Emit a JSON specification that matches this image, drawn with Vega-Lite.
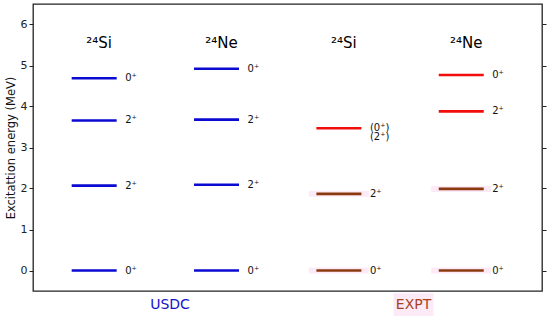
{
  "$schema": "https://vega.github.io/schema/vega-lite/v6.json",
  "width": 509,
  "height": 287,
  "autosize": "none",
  "padding": {"left": 33, "top": 4, "right": 8, "bottom": 25},
  "background": "white",
  "config": {
    "font": "DejaVu Sans",
    "view": {"stroke": "#222", "strokeWidth": 1.3},
    "axis": {
      "domain": false,
      "grid": false,
      "tickColor": "#222",
      "tickSize": 4,
      "tickWidth": 1,
      "labelColor": "#222",
      "labelFontSize": 11,
      "labelPadding": 2,
      "titleFontSize": 11.5,
      "titleFontWeight": "normal",
      "titleColor": "#111"
    }
  },
  "datasets": {
    "levels": [
      {"panel": 1, "set": "USDC", "nucleus": "24Si", "E": 0.0, "Jpi": "0⁺", "kind": "USDC"},
      {"panel": 1, "set": "USDC", "nucleus": "24Si", "E": 2.07, "Jpi": "2⁺", "kind": "USDC"},
      {"panel": 1, "set": "USDC", "nucleus": "24Si", "E": 3.66, "Jpi": "2⁺", "kind": "USDC"},
      {"panel": 1, "set": "USDC", "nucleus": "24Si", "E": 4.69, "Jpi": "0⁺", "kind": "USDC"},
      {"panel": 2, "set": "USDC", "nucleus": "24Ne", "E": 0.0, "Jpi": "0⁺", "kind": "USDC"},
      {"panel": 2, "set": "USDC", "nucleus": "24Ne", "E": 2.09, "Jpi": "2⁺", "kind": "USDC"},
      {"panel": 2, "set": "USDC", "nucleus": "24Ne", "E": 3.68, "Jpi": "2⁺", "kind": "USDC"},
      {"panel": 2, "set": "USDC", "nucleus": "24Ne", "E": 4.92, "Jpi": "0⁺", "kind": "USDC"},
      {"panel": 3, "set": "EXPT", "nucleus": "24Si", "E": 0.0, "Jpi": "0⁺", "kind": "EXPT-low"},
      {"panel": 3, "set": "EXPT", "nucleus": "24Si", "E": 1.87, "Jpi": "2⁺", "kind": "EXPT-low"},
      {"panel": 3, "set": "EXPT", "nucleus": "24Si", "E": 3.47, "Jpi": "(0⁺)\n(2⁺)", "kind": "EXPT"},
      {"panel": 4, "set": "EXPT", "nucleus": "24Ne", "E": 0.0, "Jpi": "0⁺", "kind": "EXPT-low"},
      {"panel": 4, "set": "EXPT", "nucleus": "24Ne", "E": 1.99, "Jpi": "2⁺", "kind": "EXPT-low"},
      {"panel": 4, "set": "EXPT", "nucleus": "24Ne", "E": 3.88, "Jpi": "2⁺", "kind": "EXPT"},
      {"panel": 4, "set": "EXPT", "nucleus": "24Ne", "E": 4.77, "Jpi": "0⁺", "kind": "EXPT"}
    ],
    "titles": [
      {"panel": 1, "name": "²⁴Si", "E": 5.55},
      {"panel": 2, "name": "²⁴Ne", "E": 5.55},
      {"panel": 3, "name": "²⁴Si", "E": 5.55},
      {"panel": 4, "name": "²⁴Ne", "E": 5.55}
    ],
    "groups": [
      {"pos": 1.62, "name": "USDC", "set": "USDC", "E": -0.85},
      {"pos": 3.61, "name": "EXPT", "set": "EXPT", "E": -0.85}
    ]
  },
  "layer": [
    {
      "data": {"name": "levels"},
      "transform": [{"filter": "datum.kind === 'EXPT-low'"}],
      "mark": {"type": "tick", "orient": "horizontal", "size": 60, "thickness": 6, "color": "#fdeaf7", "opacity": 1},
      "encoding": {
        "x": {"field": "panel", "type": "quantitative", "scale": {"domain": [0.5, 4.66], "nice": false, "zero": false}, "axis": null},
        "y": {"field": "E", "type": "quantitative", "scale": {"domain": [-0.5, 6.5], "nice": false, "zero": false},
              "axis": {"title": "Excitattion energy (MeV)", "values": [0, 1, 2, 3, 4, 5, 6], "titlePadding": 4}}
      }
    },
    {
      "data": {"name": "groups"},
      "transform": [{"filter": "datum.set === 'EXPT'"}],
      "mark": {"type": "tick", "orient": "horizontal", "size": 40, "thickness": 24, "color": "#fdeaf7", "opacity": 1, "clip": false},
      "encoding": {
        "x": {"field": "pos", "type": "quantitative", "axis": null},
        "y": {"field": "E", "type": "quantitative", "axis": null}
      }
    },
    {
      "data": {"name": "levels"},
      "mark": {"type": "tick", "orient": "horizontal", "size": 45, "thickness": 2.6, "opacity": 1},
      "encoding": {
        "x": {"field": "panel", "type": "quantitative", "axis": null},
        "y": {"field": "E", "type": "quantitative", "axis": null},
        "color": {"field": "kind", "type": "nominal",
                  "scale": {"domain": ["USDC", "EXPT", "EXPT-low"], "range": ["#0a0ad2", "#f20d0d", "#8b3a10"]},
                  "legend": null}
      }
    },
    {
      "data": {"name": "levels"},
      "mark": {"type": "text", "align": "left", "baseline": "middle", "dx": 31, "fontSize": 10, "color": "#111", "lineBreak": "\n", "lineHeight": 9},
      "encoding": {
        "x": {"field": "panel", "type": "quantitative", "axis": null},
        "y": {"field": "E", "type": "quantitative", "axis": null},
        "text": {"field": "Jpi"}
      }
    },
    {
      "data": {"name": "titles"},
      "mark": {"type": "text", "align": "center", "baseline": "middle", "dx": 5, "fontSize": 15, "color": "#000"},
      "encoding": {
        "x": {"field": "panel", "type": "quantitative", "axis": null},
        "y": {"field": "E", "type": "quantitative",
              "axis": {"orient": "right", "labels": false, "title": null, "values": [0, 1, 2, 3, 4, 5, 6]}},
        "text": {"field": "name"}
      }
    },
    {
      "data": {"name": "groups"},
      "mark": {"type": "text", "align": "center", "baseline": "middle", "fontSize": 14, "clip": false},
      "encoding": {
        "x": {"field": "pos", "type": "quantitative", "axis": null},
        "y": {"field": "E", "type": "quantitative", "axis": null},
        "text": {"field": "name"},
        "color": {"field": "set", "type": "nominal",
                  "scale": {"domain": ["USDC", "EXPT"], "range": ["#1414c8", "#a8421c"]}, "legend": null}
      }
    }
  ],
  "resolve": {"axis": {"y": "independent"}, "scale": {"color": "independent"}}
}
